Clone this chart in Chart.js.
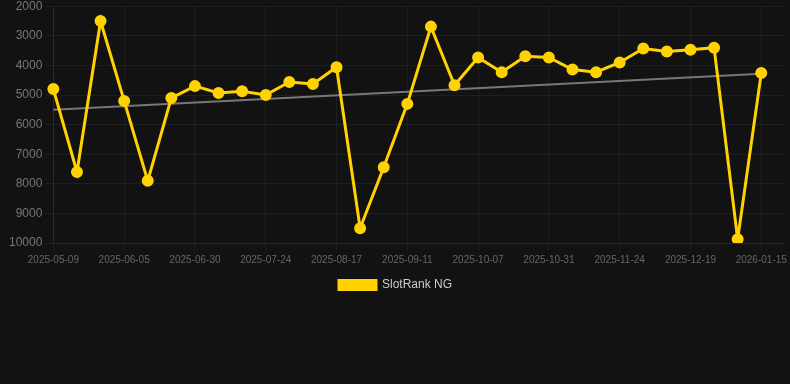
<!DOCTYPE html>
<html>
<head>
<meta charset="utf-8">
<script src="https://cdn.jsdelivr.net/npm/chart.js@4/dist/chart.umd.min.js"></script>
<style>
    html, body { margin: 0; padding: 0; background: #121212; overflow: hidden; }
    #wrap { position: relative; width: 790px; height: 305px; margin-top: -4px; }
</style>
</head>
<body>
<div id="wrap"><canvas id="rankChart"></canvas></div>
<script>
// Chart data
const dates = [
    '2025-05-09', '2025-05-18', '2025-05-27', '2025-06-05', '2025-06-13', '2025-06-21',
    '2025-06-30', '2025-07-08', '2025-07-16', '2025-07-24', '2025-08-01', '2025-08-09',
    '2025-08-17', '2025-08-25', '2025-09-03', '2025-09-11', '2025-09-20', '2025-09-28',
    '2025-10-07', '2025-10-15', '2025-10-23', '2025-10-31', '2025-11-08', '2025-11-16',
    '2025-11-24', '2025-12-02', '2025-12-10', '2025-12-19', '2025-12-28', '2026-01-06',
    '2026-01-15', '2026-01-23'
];

const slotRank = [
    4800, 7600, 2500, 5200, 7900, 5100,
    4700, 4930, 4870, 5000, 4560, 4630,
    4060, 9500, 7440, 5300, 2690, 4670,
    3730, 4230, 3690, 3730, 4140, 4230,
    3900, 3430, 3530, 3470, 3400, 9870,
    4260, null
];

// trend line end points only
const trend = [
    5500, null, null, null, null, null,
    null, null, null, null, null, null,
    null, null, null, null, null, null,
    null, null, null, null, null, null,
    null, null, null, null, null, null,
    4280, null
];

const yTicks = [2000, 3000, 4000, 5000, 6000, 7000, 8000, 9000, 10000];

const gridColor = 'rgba(255, 255, 255, 0.05)';

const ctx = document.getElementById('rankChart').getContext('2d');
new Chart(ctx, {
    type: 'line',
    data: {
        labels: dates,
        datasets: [{
            label: 'SlotRank NG',
            data: slotRank,
            borderColor: '#ffd200',
            backgroundColor: '#ffd200',
            borderWidth: 3,
            pointRadius: 4.5,
            pointHoverRadius: 5,
            tension: 0,
            order: 1
        }, {
            label: 'trend',
            data: trend,
            borderColor: '#777777',
            borderWidth: 2,
            pointRadius: 0,
            spanGaps: true,
            order: 2
        }]
    },
    options: {
        responsive: true,
        maintainAspectRatio: false,
        animation: false,
        layout: {
            autoPadding: false,
            padding: { left: 6, right: 5 }
        },
        scales: {
            x: {
                grid: { color: gridColor },
                border: { color: gridColor },
                ticks: {
                    color: '#666',
                    font: { size: 10 },
                    maxRotation: 0,
                    autoSkip: true,
                    callback: function(val, i) {
                        return i % 3 === 0 ? this.getLabelForValue(val) : null;
                    }
                }
            },
            y: {
                reverse: true,
                min: 2000,
                max: 10000,
                afterBuildTicks: axis => {
                    axis.ticks = yTicks.map(v => ({ value: v }));
                },
                grid: { color: gridColor },
                border: { color: gridColor },
                ticks: {
                    color: '#777',
                    font: { size: 12 },
                    callback: v => String(v)
                }
            }
        },
        plugins: {
            legend: {
                position: 'bottom',
                labels: {
                    color: '#ccc',
                    font: { size: 12 },
                    boxWidth: 37,
                    boxHeight: 9,
                    filter: item => item.text !== 'trend'
                }
            },
            tooltip: { enabled: false }
        }
    }
});
</script>
</body>
</html>
